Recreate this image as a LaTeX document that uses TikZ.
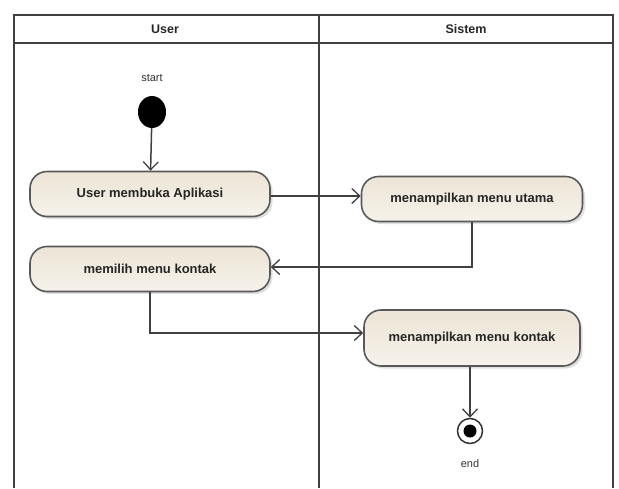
\documentclass[tikz,border=0pt]{standalone}
\usepackage{fontspec}
\setmainfont{Liberation Sans}
\usetikzlibrary{shadows,arrows.meta,shapes.geometric}
\definecolor{actTop}{RGB}{236,228,213}
\definecolor{actBot}{RGB}{246,242,235}
\begin{document}
\begin{tikzpicture}[x=1pt,y=-1pt,
  lane/.style={draw=black!75,line width=1.5pt},
  activity/.style={rounded corners=17pt,draw=black!65,line width=1.6pt,
    top color=actTop,bottom color=actBot,
    drop shadow={shadow xshift=2.5pt,shadow yshift=-2.5pt,fill=black!25},
    minimum height=45pt,font=\bfseries\fontsize{13}{15}\selectfont,text=black!85},
  flow/.style={draw=black!75,line width=1.5pt,-{Straight Barb[length=8pt,width=15pt,line width=1.3pt]}},
  lbl/.style={font=\fontsize{11}{13}\selectfont,text=black!80}]
\useasboundingbox (0,0) rectangle (619,488);
% swimlane frame
\draw[lane] (14,488) -- (14,15) -- (613,15) -- (613,488);
\draw[lane] (14,43) -- (613,43);
\draw[lane] (319,15) -- (319,488);
\node[font=\bfseries\fontsize{12.5}{14}\selectfont,text=black!85] (hUser) at (165,29) {User};
\node[font=\bfseries\fontsize{12.5}{14}\selectfont,text=black!85] (hSis) at (466,29) {Sistem};
% start node
\node[lbl] (startlbl) at (152,78) {start};
\node[ellipse,fill=black,minimum width=28pt,minimum height=32pt,inner sep=0pt] (start) at (152,112) {};
% activities
\node[activity,minimum width=240pt] (a1) at (150,194) {User membuka Aplikasi};
\node[activity,minimum width=240pt] (a2) at (150,269) {memilih menu kontak};
\node[activity,minimum width=221pt] (a3) at (472,199) {menampilkan menu utama};
\node[activity,minimum width=216pt,minimum height=56pt] (a4) at (472,338) {menampilkan menu kontak};
% end node
\node[circle,draw=black!80,line width=1.5pt,fill=white,minimum size=25pt,inner sep=0pt] (end) at (470,431) {};
\node[circle,fill=black,minimum size=13pt,inner sep=0pt] at (end) {};
\node[lbl] (endlbl) at (470,464) {end};
% flows
\draw[flow] (start) -- (a1);
\draw[flow] (a1.east |- 0,196) -- (a3.west |- 0,196);
\draw[flow] (a3.south) |- (a2.east |- 0,267);
\draw[flow] (a2.south) |- (a4.west |- 0,333);
\draw[flow] (a4.south -| end) -- (end);
\end{tikzpicture}
\end{document}
